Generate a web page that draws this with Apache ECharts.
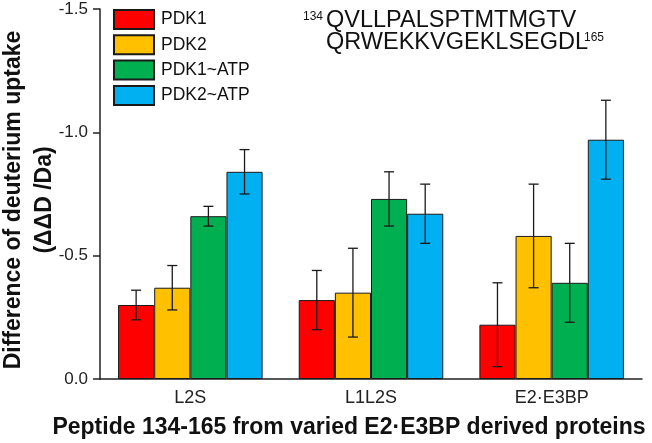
<!DOCTYPE html>
<html>
<head>
<meta charset="utf-8">
<script src="https://cdn.jsdelivr.net/npm/echarts@6/dist/echarts.min.js"></script>
<style>html,body{margin:0;padding:0;background:#fff;}#c{width:652px;height:443px;}</style>
</head>
<body>
<div id="c"></div>
<script>
var categories = ['L2S', 'L1L2S', 'E2\u00B7E3BP'];
var seriesNames = ['PDK1', 'PDK2', 'PDK1~ATP', 'PDK2~ATP'];
var pdk1 = [-0.30, -0.32, -0.22];
var pdk2 = [-0.37, -0.35, -0.58];
var pdk1Atp = [-0.66, -0.73, -0.39];
var pdk2Atp = [-0.84, -0.67, -0.97];
var pdk1Err = [0.06, 0.12, 0.17];
var pdk2Err = [0.09, 0.18, 0.21];
var pdk1AtpErr = [0.04, 0.11, 0.16];
var pdk2AtpErr = [0.09, 0.12, 0.16];
var yTicks = [-1.5, -1.0, -0.5, 0.0];

var colors = ['#FF0000', '#FFC000', '#00B050', '#00B0F0'];
var values = [pdk1, pdk2, pdk1Atp, pdk2Atp];
var errors = [pdk1Err, pdk2Err, pdk1AtpErr, pdk2AtpErr];
var FONT = "'Liberation Sans', Arial, sans-serif";
var nBars = 4, catGap = 0.2;

var chart = echarts.init(document.getElementById('c'), null, {renderer: 'canvas'});

var series = [];
values.forEach(function (vals, k) {
  series.push({
    name: seriesNames[k], type: 'bar', data: vals,
    barGap: 0, barCategoryGap: '20%',
    itemStyle: {color: colors[k], borderColor: '#1a1a1a', borderWidth: 1}
  });
});
values.forEach(function (vals, k) {
  series.push({
    type: 'custom', silent: true, z: 10,
    data: vals.map(function (v, i) { return [i, v - errors[k][i], v + errors[k][i]]; }),
    renderItem: function (params, api) {
      var c = api.value(0);
      var band = api.size([1, 0])[0];
      var bw = band * (1 - catGap) / nBars;
      var x = api.coord([c, 0])[0] + (k - (nBars - 1) / 2) * bw;
      var y1 = api.coord([c, api.value(1)])[1];
      var y2 = api.coord([c, api.value(2)])[1];
      var cap = 5;
      var st = {stroke: '#1a1a1a', lineWidth: 1.3};
      return {type: 'group', children: [
        {type: 'line', shape: {x1: x, y1: y1, x2: x, y2: y2}, style: st},
        {type: 'line', shape: {x1: x - cap, y1: y1, x2: x + cap, y2: y1}, style: st},
        {type: 'line', shape: {x1: x - cap, y1: y2, x2: x + cap, y2: y2}, style: st}
      ]};
    }
  });
});

chart.setOption({
  animation: false,
  backgroundColor: '#fff',
  grid: {left: 100, right: 10, top: 9, bottom: 64, containLabel: false},
  legend: {
    data: seriesNames, orient: 'vertical', left: 113, top: 9, padding: 0,
    itemWidth: 40, itemHeight: 19, itemGap: 4.3, icon: 'rect',
    textStyle: {fontFamily: FONT, fontSize: 17.5, color: '#111', padding: [0, 0, 0, 2]}
  },
  xAxis: {
    type: 'category', data: categories,
    axisLine: {onZero: false, lineStyle: {color: '#222', width: 1.5}},
    axisTick: {show: false},
    axisLabel: {fontFamily: FONT, fontSize: 18, color: '#222', margin: 10}
  },
  yAxis: {
    type: 'value', inverse: true, min: yTicks[0], max: yTicks[yTicks.length - 1], interval: 0.5,
    axisLine: {show: true, lineStyle: {color: '#222', width: 1.5}},
    axisTick: {show: true, length: 7, lineStyle: {color: '#222', width: 1.5}},
    splitLine: {show: false},
    axisLabel: {fontFamily: FONT, fontSize: 17, color: '#222', margin: 12,
      formatter: function (v) { return Math.abs(v) < 1e-9 ? '0.0' : v.toFixed(1); }}
  },
  graphic: [
    {type: 'text', x: 29, y: 200, rotation: Math.PI / 2,
      style: {text: 'Difference of deuterium uptake\n(\u0394\u0394D /Da)', font: 'bold 23px ' + FONT,
        fill: '#111', align: 'center', verticalAlign: 'middle', lineHeight: 31}},
    {type: 'text', x: 349, y: 428,
      style: {text: 'Peptide 134-165 from varied E2\u00B7E3BP derived proteins', font: 'bold 23px ' + FONT,
        fill: '#111', align: 'center', verticalAlign: 'middle'}},
    {type: 'text', x: 303, y: 16.5, style: {text: '134', font: '12px ' + FONT, fill: '#111', align: 'left', verticalAlign: 'middle'}},
    {type: 'text', x: 326, y: 21, style: {text: 'QVLLPALSPTMTMGTV', font: '23.5px ' + FONT, fill: '#111', align: 'left', verticalAlign: 'middle'}},
    {type: 'text', x: 326, y: 42.5, style: {text: 'QRWEKKVGEKLSEGDL', font: '23.5px ' + FONT, fill: '#111', align: 'left', verticalAlign: 'middle'}},
    {type: 'text', x: 584, y: 37.5, style: {text: '165', font: '12px ' + FONT, fill: '#111', align: 'left', verticalAlign: 'middle'}}
  ],
  series: series
});
</script>
</body>
</html>
